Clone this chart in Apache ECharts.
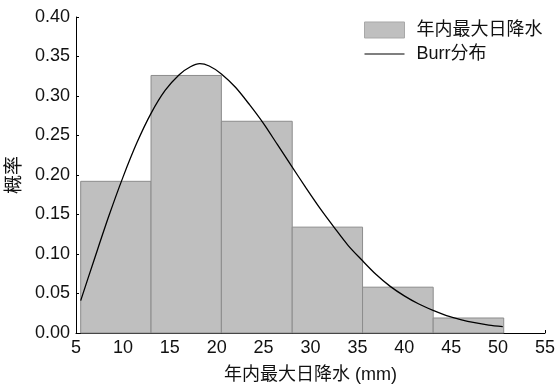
<!DOCTYPE html>
<html>
<head>
<meta charset="utf-8">
<script src="https://cdn.jsdelivr.net/npm/echarts@6/dist/echarts.min.js"></script>
<style>html,body{margin:0;padding:0;background:#fff}#c{width:556px;height:385px}</style>
</head>
<body>
<div id="c"></div>
<script>
// Histogram bins: left edge, right edge, probability
var binStarts = [5.5, 13.0, 20.5, 28.05, 35.55, 43.08];
var binEnds   = [13.0, 20.5, 28.05, 35.55, 43.08, 50.6];
var binValues = [0.192, 0.326, 0.268, 0.134, 0.058, 0.019];

// Burr curve points
var curveX = [5.5, 7, 8.5, 10, 11.5, 13, 14.5, 16, 17.2, 18.2, 19.2, 20.5, 22, 23.5, 25, 26.5, 28, 29.5, 31, 32.5, 34, 35.5, 37, 38.5, 40, 41.5, 43, 44.5, 46, 47.5, 49, 50.5];
var curveY = [0.041, 0.095, 0.148, 0.197, 0.241, 0.278, 0.307, 0.327, 0.337, 0.341, 0.338, 0.328, 0.311, 0.289, 0.265, 0.238, 0.211, 0.184, 0.158, 0.134, 0.111, 0.092, 0.074, 0.059, 0.047, 0.037, 0.029, 0.022, 0.017, 0.013, 0.010, 0.008];

var xTicks = [5, 10, 15, 20, 25, 30, 35, 40, 45, 50, 55];
var yTicks = [0, 0.05, 0.10, 0.15, 0.20, 0.25, 0.30, 0.35, 0.40];

var histName = '年内最大日降水';
var curveName = 'Burr分布';
var xTitle = '年内最大日降水 (mm)';
var yTitle = '概率';

var FONT = '"Liberation Sans", "Noto Sans CJK SC", sans-serif';

var histData = binStarts.map(function (s, i) { return [s, binEnds[i], binValues[i]]; });
var curveData = curveX.map(function (x, i) { return [x, curveY[i]]; });

var chart = echarts.init(document.getElementById('c'), null, { renderer: 'canvas' });
chart.setOption({
  animation: false,
  backgroundColor: '#fff',
  textStyle: { fontFamily: FONT },
  grid: { left: 76, right: 11, top: 17, bottom: 52, containLabel: false, outerBoundsMode: 'none' },
  legend: {
    orient: 'vertical',
    left: 364,
    top: 21,
    padding: 0,
    itemWidth: 40,
    itemHeight: 16,
    itemGap: 6,
    textStyle: { fontSize: 18, color: '#111', fontFamily: FONT, padding: [0, 0, 0, 7] },
    data: [
      { name: histName, icon: 'rect', itemStyle: { color: '#bfbfbf', borderColor: '#a8a8a8', borderWidth: 1 } },
      { name: curveName, icon: 'path://M0,49L100,49L100,51L0,51Z', itemStyle: { color: '#000', borderWidth: 0 } }
    ]
  },
  xAxis: {
    type: 'value',
    min: 5, max: 55, interval: 5,
    name: xTitle,
    nameLocation: 'middle',
    nameGap: 33,
    nameTextStyle: { fontSize: 18, color: '#111', fontFamily: FONT },
    axisLine: { show: true, lineStyle: { color: '#000', width: 1 } },
    axisTick: { show: true, inside: true, length: 3, lineStyle: { color: '#000' } },
    axisLabel: { fontSize: 18, color: '#111', margin: 6, fontFamily: FONT },
    splitLine: { show: false }
  },
  yAxis: {
    type: 'value',
    min: 0, max: 0.4, interval: 0.05,
    name: yTitle,
    nameLocation: 'middle',
    nameGap: 50,
    nameRotate: 90,
    nameTextStyle: { fontSize: 19, color: '#111', fontFamily: FONT },
    axisLine: { show: true, lineStyle: { color: '#000', width: 1 } },
    axisTick: { show: true, inside: true, length: 3, lineStyle: { color: '#000' } },
    axisLabel: { fontSize: 18, color: '#111', margin: 6, fontFamily: FONT,
      formatter: function (v) { return v.toFixed(2); } },
    splitLine: { show: false }
  },
  series: [
    {
      name: histName,
      type: 'custom',
      itemStyle: { color: '#bfbfbf', borderColor: '#8c8c8c', borderWidth: 1 },
      encode: { x: [0, 1], y: 2 },
      renderItem: function (params, api) {
        var p0 = api.coord([api.value(0), api.value(2)]);
        var p1 = api.coord([api.value(1), 0]);
        return {
          type: 'rect',
          shape: { x: p0[0], y: p0[1], width: p1[0] - p0[0], height: p1[1] - p0[1] },
          style: { fill: '#bfbfbf', stroke: '#8c8c8c', lineWidth: 1 }
        };
      },
      data: histData,
      z: 1
    },
    {
      name: curveName,
      type: 'line',
      smooth: 0.3,
      symbol: 'none',
      lineStyle: { color: '#000', width: 1.3 },
      itemStyle: { color: '#000' },
      data: curveData,
      z: 3
    }
  ]
});
</script>
</body>
</html>
